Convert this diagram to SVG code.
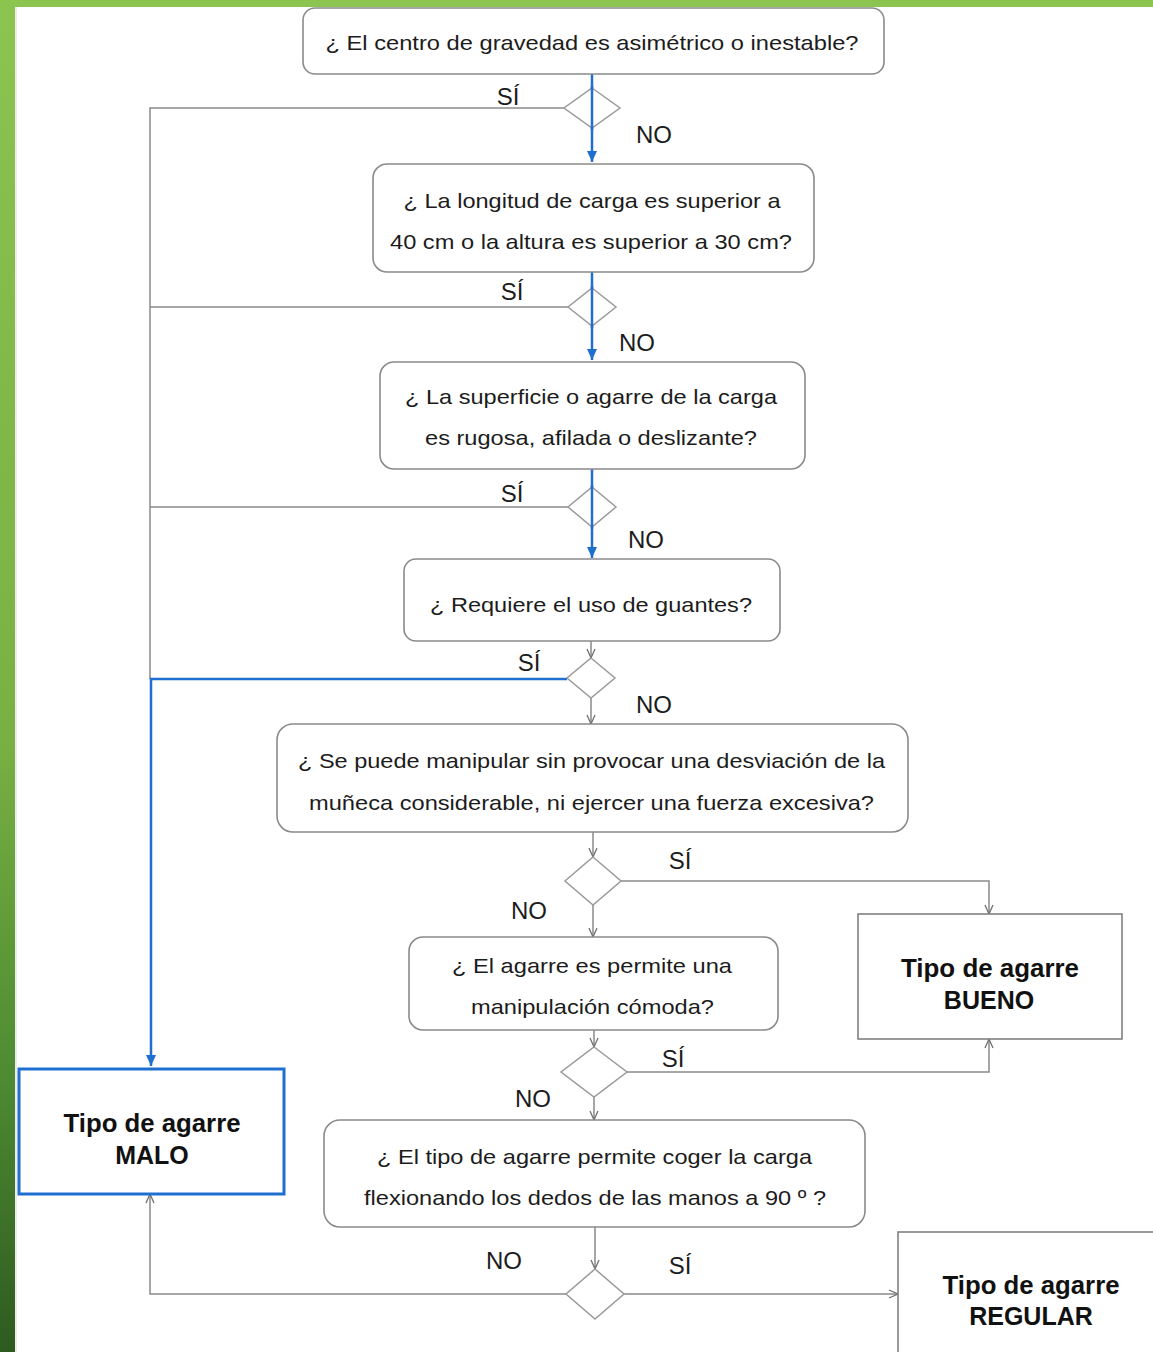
<svg xmlns="http://www.w3.org/2000/svg" width="1153" height="1352" viewBox="0 0 1153 1352">
<defs>
<linearGradient id="gl" x1="0" y1="0" x2="0" y2="1">
<stop offset="0" stop-color="#8cc450"/>
<stop offset="0.55" stop-color="#78b043"/>
<stop offset="0.8" stop-color="#4d8a31"/>
<stop offset="1" stop-color="#2e5a20"/>
</linearGradient>
<marker id="ag" markerWidth="12" markerHeight="12" refX="10" refY="5" orient="auto" markerUnits="userSpaceOnUse">
<path d="M1,1 L10,5 L1,9" fill="none" stroke="#707070" stroke-width="1.3"/>
</marker>
<marker id="ab" markerWidth="14" markerHeight="12" refX="11" refY="5" orient="auto" markerUnits="userSpaceOnUse">
<path d="M0,0 L11,5 L0,10 Z" fill="#1f6fd0"/>
</marker>
<style>
.box{fill:#fff;stroke:#8a8a8a;stroke-width:1.6}
.term{fill:#fff;stroke:#808080;stroke-width:1.6}
.malo{fill:#fff;stroke:#1f6fd0;stroke-width:3}
.dia{fill:#fff;stroke:#9a9a9a;stroke-width:1.5}
.t{font-family:"Liberation Sans",Arial,sans-serif;font-size:21px;fill:#1c1c1c;text-anchor:middle}
.b{font-family:"Liberation Sans",Arial,sans-serif;font-size:25px;font-weight:bold;fill:#111;text-anchor:middle}
.l{font-family:"Liberation Sans",Arial,sans-serif;font-size:24px;fill:#1c1c1c;text-anchor:middle}
.cg{fill:none;stroke:#8a8a8a;stroke-width:1.5}
.cb{fill:none;stroke:#1f6fd0;stroke-width:2.5}
</style>
</defs>
<rect x="0" y="0" width="1153" height="1352" fill="#fff"/>
<rect x="0" y="0" width="1153" height="7" fill="#8cc450"/>
<rect x="0" y="0" width="15" height="1352" fill="url(#gl)"/>
<line x1="16" y1="7" x2="16" y2="1352" stroke="#d8d8d8" stroke-width="1"/>

<g id="connectors">
<path class="cg" d="M564,108 H150 V679"/>
<path class="cg" d="M568,307 H150"/>
<path class="cg" d="M568,507 H150"/>
<path class="cb" d="M567,679 H151 V1066" marker-end="url(#ab)"/>
<path class="cb" d="M592,74 V162" marker-end="url(#ab)"/>
<path class="cb" d="M592,272 V360" marker-end="url(#ab)"/>
<path class="cb" d="M592,469 V558" marker-end="url(#ab)"/>
<path class="cg" d="M591,641 V658" marker-end="url(#ag)"/>
<path class="cg" d="M591,698 V724" marker-end="url(#ag)"/>
<path class="cg" d="M593,832 V857" marker-end="url(#ag)"/>
<path class="cg" d="M593,905 V937" marker-end="url(#ag)"/>
<path class="cg" d="M621,881 H989 V914" marker-end="url(#ag)"/>
<path class="cg" d="M594,1030 V1047" marker-end="url(#ag)"/>
<path class="cg" d="M594,1097 V1120" marker-end="url(#ag)"/>
<path class="cg" d="M627,1072 H989 V1039" marker-end="url(#ag)"/>
<path class="cg" d="M595,1227 V1269" marker-end="url(#ag)"/>
<path class="cg" d="M566,1294 H150 V1194" marker-end="url(#ag)"/>
<path class="cg" d="M624,1294 H898" marker-end="url(#ag)"/>
</g>

<g id="d1"><polygon class="dia" points="592,88 620,108 592,128 564,108"/></g>
<g id="d2"><polygon class="dia" points="592,288 616,307 592,326 568,307"/></g>
<g id="d3"><polygon class="dia" points="592,487 616,507 592,527 568,507"/></g>
<g id="d4"><polygon class="dia" points="591,658 615,678 591,698 567,678"/></g>
<g id="d5"><polygon class="dia" points="593,857 621,881 593,905 565,881"/></g>
<g id="d6"><polygon class="dia" points="594,1047 627,1072 594,1097 561,1072"/></g>
<g id="d7"><polygon class="dia" points="595,1269 624,1294 595,1319 566,1294"/></g>
<g id="blue-over">
<line class="cb" x1="592" y1="86" x2="592" y2="130"/>
<line class="cb" x1="592" y1="286" x2="592" y2="328"/>
<line class="cb" x1="592" y1="485" x2="592" y2="529"/>
</g>

<g id="n1">
<rect class="box" x="303" y="8" width="581" height="66" rx="12"/>
<text class="t" x="592" y="50" textLength="533" lengthAdjust="spacingAndGlyphs">¿ El centro de gravedad es asimétrico o inestable?</text>
</g>
<g id="n2">
<rect class="box" x="373" y="164" width="441" height="108" rx="14"/>
<text class="t" x="592" y="208" textLength="377" lengthAdjust="spacingAndGlyphs">¿ La longitud de carga es superior a</text>
<text class="t" x="591" y="249" textLength="402" lengthAdjust="spacingAndGlyphs">40 cm o la altura es superior a 30 cm?</text>
</g>
<g id="n3">
<rect class="box" x="380" y="362" width="425" height="107" rx="14"/>
<text class="t" x="591" y="404" textLength="372" lengthAdjust="spacingAndGlyphs">¿ La superficie o agarre de la carga</text>
<text class="t" x="591" y="445" textLength="332" lengthAdjust="spacingAndGlyphs">es rugosa, afilada o deslizante?</text>
</g>
<g id="n4">
<rect class="box" x="404" y="559" width="376" height="82" rx="12"/>
<text class="t" x="591" y="612" textLength="322" lengthAdjust="spacingAndGlyphs">¿ Requiere el uso de guantes?</text>
</g>
<g id="n5">
<rect class="box" x="277" y="724" width="631" height="108" rx="16"/>
<text class="t" x="591.5" y="768" textLength="587" lengthAdjust="spacingAndGlyphs">¿ Se puede manipular sin provocar una desviación de la</text>
<text class="t" x="591.5" y="810" textLength="565" lengthAdjust="spacingAndGlyphs">muñeca considerable, ni ejercer una fuerza excesiva?</text>
</g>
<g id="n6">
<rect class="box" x="409" y="937" width="369" height="93" rx="14"/>
<text class="t" x="592" y="973" textLength="280" lengthAdjust="spacingAndGlyphs">¿ El agarre es permite una</text>
<text class="t" x="592.5" y="1014" textLength="243" lengthAdjust="spacingAndGlyphs">manipulación cómoda?</text>
</g>
<g id="n7">
<rect class="box" x="324" y="1120" width="541" height="107" rx="16"/>
<text class="t" x="594.5" y="1164" textLength="435" lengthAdjust="spacingAndGlyphs">¿ El tipo de agarre permite coger la carga</text>
<text class="t" x="595" y="1205" textLength="462" lengthAdjust="spacingAndGlyphs">flexionando los dedos de las manos a 90 º ?</text>
</g>
<g id="bueno">
<rect class="term" x="858" y="914" width="264" height="125"/>
<text class="b" x="990" y="977" textLength="178" lengthAdjust="spacingAndGlyphs">Tipo de agarre</text>
<text class="b" x="989" y="1009">BUENO</text>
</g>
<g id="malo">
<rect class="malo" x="19" y="1069" width="265" height="125"/>
<text class="b" x="152" y="1132" textLength="177" lengthAdjust="spacingAndGlyphs">Tipo de agarre</text>
<text class="b" x="152" y="1164">MALO</text>
</g>
<g id="regular">
<rect class="term" x="898" y="1232" width="270" height="140"/>
<text class="b" x="1031" y="1294" textLength="177" lengthAdjust="spacingAndGlyphs">Tipo de agarre</text>
<text class="b" x="1031" y="1325">REGULAR</text>
</g>

<g id="labels">
<text class="l" x="508" y="105">SÍ</text>
<text class="l" x="654" y="143">NO</text>
<text class="l" x="512" y="300">SÍ</text>
<text class="l" x="637" y="351">NO</text>
<text class="l" x="512" y="502">SÍ</text>
<text class="l" x="646" y="548">NO</text>
<text class="l" x="529" y="671">SÍ</text>
<text class="l" x="654" y="713">NO</text>
<text class="l" x="680" y="869">SÍ</text>
<text class="l" x="529" y="919">NO</text>
<text class="l" x="673" y="1067">SÍ</text>
<text class="l" x="533" y="1107">NO</text>
<text class="l" x="504" y="1269">NO</text>
<text class="l" x="680" y="1274">SÍ</text>
</g>
</svg>
